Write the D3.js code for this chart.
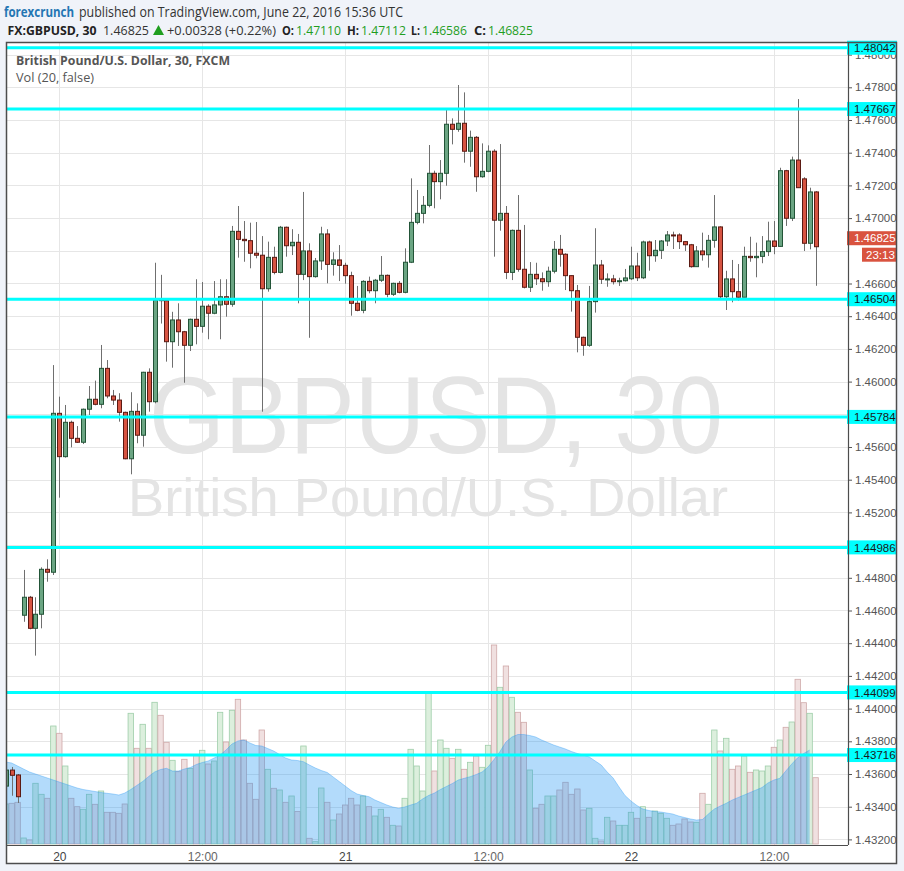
<!DOCTYPE html>
<html><head><meta charset="utf-8">
<script src="https://cdn.jsdelivr.net/npm/d3@7"></script>
<style>
html,body{margin:0;padding:0;background:#f0f3f9;}
svg{display:block;}
</style></head><body>
<svg id="c" width="904" height="871"></svg>
<script>
// ---------- DATA (30-minute bars, first bar index = -9 relative to 20 Jun 00:00) ----------
const firstBar = -9;
const opens = [
1.43526,1.43624,1.43594,1.44571,1.44681,1.44491,1.44577,1.44852,1.44834,1.45806,
1.45541,1.45751,1.45653,1.45629,1.45831,1.45892,1.45861,1.46081,1.45912,1.45887,
1.45812,1.45528,1.45818,1.45672,1.46057,1.45877,1.46505,1.46495,1.46244,1.46377,
1.46305,1.46222,1.46381,1.46338,1.46461,1.46418,1.46469,1.46519,1.46473,1.46919,
1.46870,1.46862,1.46785,1.46773,1.46568,1.46760,1.46668,1.46944,1.46831,1.46852,
1.46656,1.46799,1.46642,1.46738,1.46903,1.46717,1.46744,1.46711,1.46648,1.46479,
1.46436,1.46613,1.46556,1.46620,1.46650,1.46534,1.46601,1.46546,1.46730,1.46974,
1.47029,1.47078,1.47274,1.47223,1.47274,1.47574,1.47543,1.47580,1.47409,1.47494,
1.47253,1.47286,1.47409,1.46987,1.47029,1.46668,1.46925,1.46687,1.46577,1.46656,
1.46629,1.46611,1.46675,1.46809,1.46779,1.46648,1.46556,1.46271,1.46222,1.46489,
1.46713,1.46626,1.46628,1.46611,1.46617,1.46629,1.46707,1.46635,1.46854,1.46770,
1.46803,1.46860,1.46897,1.46897,1.46856,1.46837,1.46703,1.46799,1.46776,1.46864,
1.46946,1.46519,1.46628,1.46550,1.46516,1.46766,1.46758,1.46766,1.46795,1.46860,
1.46827,1.47290,1.46999,1.47355,1.47240,1.46846,1.47160];
const highs = [
1.43640,1.43643,1.43600,1.44848,1.44689,1.44681,1.44864,1.44913,1.46101,1.45908,
1.45857,1.45761,1.45728,1.45835,1.45973,1.46006,1.46224,1.46132,1.45949,1.45929,
1.45816,1.45935,1.45867,1.46060,1.46081,1.46727,1.46653,1.46505,1.46427,1.46479,
1.46310,1.46385,1.46626,1.46609,1.46473,1.46615,1.46626,1.46626,1.46952,1.47074,
1.46982,1.46972,1.46976,1.46890,1.46856,1.46825,1.46952,1.46948,1.46932,1.46903,
1.47160,1.46846,1.46756,1.46947,1.46932,1.46791,1.46835,1.46727,1.46672,1.46585,
1.46620,1.46642,1.46628,1.46768,1.46655,1.46605,1.46615,1.46815,1.47243,1.47172,
1.47135,1.47447,1.47290,1.47355,1.47661,1.47610,1.47814,1.47769,1.47535,1.47502,
1.47457,1.47445,1.47421,1.47453,1.47074,1.46930,1.47141,1.46958,1.46731,1.46727,
1.46668,1.46703,1.46860,1.46897,1.46785,1.46650,1.46591,1.46275,1.46585,1.46938,
1.46744,1.46662,1.46653,1.46635,1.46689,1.46825,1.46788,1.46862,1.46862,1.46866,
1.46866,1.46921,1.46917,1.46907,1.46860,1.46842,1.46829,1.46911,1.46897,1.47141,
1.46950,1.46678,1.46744,1.46719,1.46825,1.46886,1.46850,1.46890,1.46978,1.46982,
1.47308,1.47295,1.47376,1.47728,1.47250,1.47186,1.47165];
const lows = [
1.43500,1.43467,1.43423,1.44531,1.44485,1.44324,1.44491,1.44776,1.44817,1.45290,
1.45535,1.45598,1.45625,1.45618,1.45796,1.45855,1.45837,1.45898,1.45857,1.45755,
1.45525,1.45433,1.45623,1.45602,1.45816,1.45867,1.46355,1.46122,1.46085,1.46218,
1.45993,1.46187,1.46228,1.46299,1.46259,1.46412,1.46259,1.46397,1.46458,1.46758,
1.46733,1.46693,1.46754,1.45816,1.46550,1.46656,1.46662,1.46764,1.46774,1.46479,
1.46621,1.46268,1.46636,1.46683,1.46601,1.46648,1.46615,1.46599,1.46403,1.46430,
1.46418,1.46540,1.46479,1.46609,1.46516,1.46524,1.46540,1.46540,1.46725,1.46962,
1.46968,1.47066,1.47060,1.47115,1.47198,1.47451,1.47528,1.47339,1.47314,1.47161,
1.47247,1.47280,1.46764,1.46923,1.46627,1.46621,1.46672,1.46570,1.46548,1.46591,
1.46556,1.46580,1.46662,1.46703,1.46560,1.46428,1.46179,1.46158,1.46213,1.46422,
1.46597,1.46580,1.46594,1.46585,1.46612,1.46621,1.46615,1.46627,1.46678,1.46733,
1.46750,1.46829,1.46811,1.46811,1.46799,1.46697,1.46703,1.46740,1.46697,1.46819,
1.46509,1.46438,1.46485,1.46495,1.46516,1.46733,1.46638,1.46724,1.46768,1.46779,
1.46825,1.46952,1.46982,1.47186,1.46799,1.46809,1.46586];
const closes = [
1.43624,1.43592,1.43461,1.44681,1.44491,1.44577,1.44852,1.44834,1.45806,1.45541,
1.45751,1.45653,1.45629,1.45831,1.45892,1.45861,1.46081,1.45912,1.45887,1.45812,
1.45528,1.45818,1.45672,1.46057,1.45877,1.46499,1.46495,1.46244,1.46377,1.46305,
1.46222,1.46381,1.46338,1.46461,1.46418,1.46469,1.46519,1.46473,1.46919,1.46870,
1.46862,1.46785,1.46773,1.46568,1.46760,1.46668,1.46944,1.46831,1.46852,1.46656,
1.46799,1.46642,1.46738,1.46903,1.46717,1.46744,1.46711,1.46648,1.46479,1.46436,
1.46613,1.46556,1.46620,1.46650,1.46534,1.46601,1.46546,1.46730,1.46974,1.47029,
1.47078,1.47274,1.47223,1.47274,1.47574,1.47543,1.47580,1.47409,1.47494,1.47253,
1.47286,1.47409,1.46987,1.47029,1.46668,1.46925,1.46687,1.46577,1.46656,1.46629,
1.46611,1.46675,1.46809,1.46779,1.46648,1.46556,1.46271,1.46222,1.46489,1.46713,
1.46626,1.46628,1.46611,1.46617,1.46634,1.46707,1.46635,1.46854,1.46770,1.46803,
1.46860,1.46897,1.46893,1.46856,1.46837,1.46703,1.46799,1.46776,1.46864,1.46946,
1.46519,1.46628,1.46550,1.46516,1.46766,1.46758,1.46766,1.46795,1.46860,1.46827,
1.47290,1.46999,1.47355,1.47186,1.46846,1.47160,1.46825];
const volumes = [
400,407,417,60,40,607,497,457,1180,1107,
780,457,373,347,497,397,530,317,317,307,
400,1307,957,1197,957,1417,1287,1017,837,723,
847,757,883,937,800,830,1317,1020,1337,1447,
1040,607,447,1140,747,557,540,417,480,325,
980,57,23,560,417,240,300,390,457,390,
480,373,280,347,267,187,180,457,947,780,
530,1507,730,1040,957,857,947,747,817,880,
767,987,1990,1567,1780,1467,1317,1217,740,357,
397,480,480,540,617,497,550,340,357,57,
30,267,230,187,187,317,257,373,267,330,
307,257,187,200,250,220,217,507,397,1140,
930,1057,747,780,880,717,740,730,780,967,
1040,1167,1220,1647,1413,1307,663];
const volumeMA = [
820,810,780,750,720,700,680,660,640,620,
600,580,560,545,535,525,515,507,500,490,
510,545,585,625,675,720,745,757,730,730,
750,765,795,815,830,860,890,940,1000,1030,
1040,1010,985,980,955,930,895,860,840,835,
823,790,760,735,715,670,625,580,535,500,
485,473,440,415,390,370,357,370,390,407,
450,485,510,545,575,605,640,657,673,695,
720,770,845,925,1020,1070,1095,1095,1085,1070,
1040,1015,990,970,950,925,905,890,870,830,
790,720,660,570,485,430,385,350,335,325,
320,310,300,280,265,250,240,245,300,350,
380,407,440,465,490,515,540,565,610,640,
657,730,800,863,905,940,null];
const priceTicks = [1.432,1.434,1.436,1.438,1.440,1.442,1.444,1.446,1.448,1.450,1.452,1.454,1.456,1.458,1.460,1.462,1.464,1.466,1.468,1.470,1.472,1.474,1.476,1.478,1.480];
const priceTickLabels = ["1.43200","1.43400","1.43600","1.43800","1.44000","1.44200","1.44400","1.44600","1.44800","1.45000","1.45200","1.45400","1.45600","1.45800","1.46000","1.46200","1.46400","1.46600","1.46800","1.47000","1.47200","1.47400","1.47600","1.47800","1.48000"];
const timeTickBars = [0,24,48,72,96,120];
const timeTickLabels = ["20","12:00","21","12:00","22","12:00"];
const levelPrices = [1.48042,1.47667,1.46504,1.45784,1.44986,1.44099,1.43716];
const levelLabels = ["1.48042","1.47667","1.46504","1.45784","1.44986","1.44099","1.43716"];
const lastPrice = 1.46825, lastPriceLabel = "1.46825", countdown = "23:13";

// ---------- LAYOUT ----------
const L=6, T=42, R=897, B=864, PR=848, PB=845;
const svg = d3.select("#c");
const FONT = "'Liberation Sans', Arial, sans-serif";
const HFONT = "'Open Sans', 'Noto Sans', sans-serif";

const x = d3.scaleLinear().domain([0,120]).range([59.3,773.9]);
const y = d3.scaleLinear().domain([1.432,1.480]).range([839.4,54.6]);
const v = d3.scaleLinear().domain([0,2000]).range([844,644]);

const bars = opens.map((o,i)=>({k:i+firstBar,o,h:highs[i],l:lows[i],c:closes[i],vol:volumes[i],ma:volumeMA[i]}));

svg.append("rect").attr("width",904).attr("height",871).attr("fill","#f0f3f9");
svg.append("rect").attr("x",L).attr("y",T).attr("width",R-L).attr("height",B-T).attr("fill","#fff");

svg.append("defs").append("clipPath").attr("id","plot")
  .append("rect").attr("x",L).attr("y",T).attr("width",PR-L).attr("height",PB-T);
const plot = svg.append("g").attr("clip-path","url(#plot)");

// grid
plot.append("g").selectAll("line").data(priceTicks).join("line")
  .attr("x1",L).attr("x2",PR).attr("y1",d=>Math.round(y(d))+0.5).attr("y2",d=>Math.round(y(d))+0.5)
  .attr("stroke","#e6e6e6").attr("stroke-width",1);
plot.append("g").selectAll("line").data(timeTickBars).join("line")
  .attr("x1",d=>Math.round(x(d))+0.5).attr("x2",d=>Math.round(x(d))+0.5).attr("y1",T).attr("y2",PB)
  .attr("stroke","#e6e6e6").attr("stroke-width",1);

// watermark
plot.append("text").attr("x",436).attr("y",453).attr("text-anchor","middle")
  .attr("font-family",FONT).attr("font-size",110).attr("fill","#e4e4e4")
  .attr("textLength",574).attr("lengthAdjust","spacingAndGlyphs").text("GBPUSD, 30");
plot.append("text").attr("x",428).attr("y",516).attr("text-anchor","middle")
  .attr("font-family",FONT).attr("font-size",53).attr("fill","#e4e4e4")
  .attr("textLength",600).attr("lengthAdjust","spacingAndGlyphs").text("British Pound/U.S. Dollar");

// volume bars
plot.append("g").selectAll("rect").data(bars).join("rect")
  .attr("x",d=>x(d.k)-2.7).attr("width",5.4)
  .attr("y",d=>v(d.vol)).attr("height",d=>v(0)-v(d.vol))
  .attr("fill",d=>d.c>=d.o?"#dcefdd":"#f0e0e0")
  .attr("stroke",d=>d.c>=d.o?"#9fceaa":"#cfa9a9").attr("stroke-width",0.8);

// volume moving-average area
const maData = bars.filter(d=>d.ma!=null);
plot.append("path").datum(maData)
  .attr("d",d3.area().x(d=>x(d.k)).y0(v(0)).y1(d=>v(d.ma)))
  .attr("fill","rgba(33,150,243,0.34)");
plot.append("path").datum(maData)
  .attr("d",d3.line().x(d=>x(d.k)).y(d=>v(d.ma)))
  .attr("fill","none").attr("stroke","rgba(33,150,243,0.35)").attr("stroke-width",1);

// candles
const cg = plot.append("g");
cg.selectAll("line").data(bars).join("line")
  .attr("x1",d=>Math.round(x(d.k))+0.5).attr("x2",d=>Math.round(x(d.k))+0.5)
  .attr("y1",d=>y(d.h)).attr("y2",d=>y(d.l))
  .attr("stroke","#6f6f6f").attr("stroke-width",1);
cg.selectAll("rect").data(bars).join("rect")
  .attr("x",d=>Math.round(x(d.k))-1.5).attr("width",4)
  .attr("y",d=>y(Math.max(d.o,d.c))).attr("height",d=>Math.max(1,Math.abs(y(d.o)-y(d.c))))
  .attr("fill",d=>d.c>=d.o?"#6ba583":"#d75442")
  .attr("stroke",d=>d.c>=d.o?"#225437":"#5b1a13").attr("stroke-width",1);

// horizontal level lines
plot.append("g").selectAll("line").data(levelPrices).join("line")
  .attr("x1",L).attr("x2",PR).attr("y1",d=>y(d)).attr("y2",d=>y(d))
  .attr("stroke","#00ffff").attr("stroke-width",3);

// price axis: tick labels fully covered by a price label are not drawn (as in the reference)
const ly = y(lastPrice);
const covered = d => levelPrices.some(p=>Math.abs(y(p)-y(d))<5) || (y(d)>ly-16 && y(d)<ly+16);
const shownTicks = priceTicks.filter(d=>!covered(d));
const ya = svg.append("g").attr("transform",`translate(${PR},0)`)
  .call(d3.axisRight(y).tickValues(shownTicks)
    .tickFormat(d=>priceTickLabels[priceTicks.indexOf(d)]).tickSize(4).tickPadding(3));
ya.select(".domain").remove();
ya.selectAll("line").attr("stroke","#555");
ya.selectAll("text").attr("font-family",FONT).attr("font-size",11.5).attr("fill","#555");

// time axis
const xa = svg.append("g").attr("transform",`translate(0,${PB})`)
  .call(d3.axisBottom(x).tickValues(timeTickBars).tickFormat((d,i)=>timeTickLabels[i]).tickSize(0).tickPadding(7));
xa.select(".domain").remove();
xa.selectAll("text").attr("font-family",FONT).attr("font-size",12)
  .attr("fill",(d,i)=>timeTickLabels[i].includes(":")?"#666":"#444");

// level labels on price axis
const lg = svg.append("g").selectAll("g").data(levelPrices).join("g")
  .attr("transform",d=>`translate(${PR-1},${y(d)})`);
lg.append("rect").attr("x",0).attr("y",-7).attr("width",R-PR+1).attr("height",14).attr("fill","#00ffff");
lg.append("text").attr("x",7).attr("dy","0.36em").attr("font-family",FONT).attr("font-size",11.5)
  .attr("fill","#1a1a1a").text((d,i)=>levelLabels[i]);

// last price + countdown
svg.append("rect").attr("x",PR-1).attr("y",ly-15.5).attr("width",R-PR+1).attr("height",14).attr("fill","#d9533f");
svg.append("text").attr("x",PR+6).attr("y",ly-8.5).attr("dy","0.36em").attr("font-family",FONT)
  .attr("font-size",11.5).attr("fill","#fff").text(lastPriceLabel);
svg.append("rect").attr("x",862).attr("y",ly+1).attr("width",R-862).attr("height",14).attr("fill","#d9533f");
svg.append("text").attr("x",866).attr("y",ly+8).attr("dy","0.36em").attr("font-family",FONT)
  .attr("font-size",11.5).attr("fill","#fff").text(countdown);

// frame
const fr = svg.append("g").attr("stroke","#4d4d4d").attr("fill","none");
fr.append("rect").attr("x",L+0.5).attr("y",T+0.5).attr("width",R-L-1).attr("height",B-T-1).attr("stroke-width",1.5);
fr.append("line").attr("x1",PR+0.5).attr("x2",PR+0.5).attr("y1",T).attr("y2",PB).attr("stroke-width",1.2);
fr.append("line").attr("x1",L).attr("x2",PR).attr("y1",PB+0.5).attr("y2",PB+0.5).attr("stroke-width",1.2);

// legend inside chart
svg.append("text").attr("x",16).attr("y",65).attr("font-family",HFONT).attr("font-size",12).attr("font-weight","bold")
  .attr("fill","#555").attr("textLength",214).attr("lengthAdjust","spacingAndGlyphs").text("British Pound/U.S. Dollar, 30, FXCM");
svg.append("text").attr("x",16).attr("y",82).attr("font-family",HFONT).attr("font-size",12)
  .attr("fill","#555").attr("textLength",78).attr("lengthAdjust","spacingAndGlyphs").text("Vol (20, false)");

// header
const hd = svg.append("g").attr("font-family",HFONT);
hd.append("text").attr("x",4).attr("y",16.5).attr("font-size",14).attr("font-weight","bold").attr("fill","#2476b3")
  .attr("textLength",70).attr("lengthAdjust","spacingAndGlyphs").text("forexcrunch");
hd.append("text").attr("x",79).attr("y",16.5).attr("font-size",14).attr("fill","#333")
  .attr("textLength",324).attr("lengthAdjust","spacingAndGlyphs").text("published on TradingView.com, June 22, 2016 15:36 UTC");
const green = "#1f9e1f";
const line2 = [
  {t:"FX:GBPUSD, 30",x:7.5,w:89,b:true,c:"#222"},
  {t:"1.46825",x:103,w:46,b:false,c:"#333"},
  {t:"+0.00328 (+0.22%)",x:167,w:109,b:false,c:"#333"},
  {t:"O:",x:282,w:12,b:true,c:"#222"},{t:"1.47110",x:296,w:45,b:false,c:green},
  {t:"H:",x:347,w:12,b:true,c:"#222"},{t:"1.47112",x:361,w:45,b:false,c:green},
  {t:"L:",x:411,w:9,b:true,c:"#222"},{t:"1.46586",x:422,w:45,b:false,c:green},
  {t:"C:",x:474,w:12,b:true,c:"#222"},{t:"1.46825",x:488,w:45,b:false,c:green}
];
hd.selectAll("text.l2").data(line2).join("text").attr("class","l2")
  .attr("x",d=>d.x).attr("y",34.5).attr("font-size",12.5)
  .attr("font-weight",d=>d.b?"bold":"normal").attr("fill",d=>d.c)
  .attr("textLength",d=>d.w).attr("lengthAdjust","spacingAndGlyphs").text(d=>d.t);
hd.append("path").attr("d","M153,35L158.5,25L164,35Z").attr("fill",green);
</script>
</body></html>
